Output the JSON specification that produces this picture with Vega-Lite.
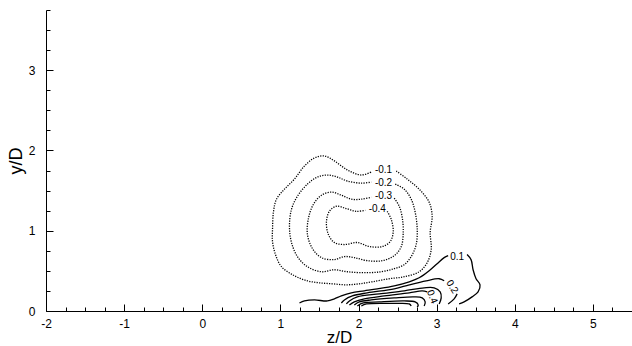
{
  "$schema": "https://vega.github.io/schema/vega-lite/v6.json",
  "width": 586,
  "height": 301,
  "autosize": {"type": "none"},
  "padding": {"left": 46, "top": 10, "right": 0, "bottom": 35},
  "background": "white",
  "config": {
    "view": {"stroke": null},
    "font": "Liberation Sans",
    "axis": {
      "domainColor": "black",
      "domainWidth": 1,
      "tickColor": "black",
      "tickWidth": 1,
      "grid": false,
      "labelColor": "black",
      "labelFontSize": 12,
      "labelFont": "Liberation Sans",
      "titleColor": "black",
      "titleFont": "Liberation Sans",
      "titleFontSize": 17,
      "titleFontWeight": "normal"
    }
  },
  "datasets": {
    "contours": [
      {"c": "n1", "s": "neg", "z": 2.483, "y": 1.744},
      {"c": "n1", "s": "neg", "z": 2.623, "y": 1.644},
      {"c": "n1", "s": "neg", "z": 2.776, "y": 1.518},
      {"c": "n1", "s": "neg", "z": 2.904, "y": 1.355},
      {"c": "n1", "s": "neg", "z": 2.942, "y": 1.179},
      {"c": "n1", "s": "neg", "z": 2.917, "y": 0.979},
      {"c": "n1", "s": "neg", "z": 2.93, "y": 0.765},
      {"c": "n1", "s": "neg", "z": 2.879, "y": 0.602},
      {"c": "n1", "s": "neg", "z": 2.776, "y": 0.489},
      {"c": "n1", "s": "neg", "z": 2.585, "y": 0.427},
      {"c": "n1", "s": "neg", "z": 2.393, "y": 0.402},
      {"c": "n1", "s": "neg", "z": 2.176, "y": 0.364},
      {"c": "n1", "s": "neg", "z": 2.01, "y": 0.339},
      {"c": "n1", "s": "neg", "z": 1.844, "y": 0.326},
      {"c": "n1", "s": "neg", "z": 1.665, "y": 0.339},
      {"c": "n1", "s": "neg", "z": 1.499, "y": 0.351},
      {"c": "n1", "s": "neg", "z": 1.346, "y": 0.376},
      {"c": "n1", "s": "neg", "z": 1.18, "y": 0.439},
      {"c": "n1", "s": "neg", "z": 1.014, "y": 0.552},
      {"c": "n1", "s": "neg", "z": 0.937, "y": 0.703},
      {"c": "n1", "s": "neg", "z": 0.899, "y": 0.866},
      {"c": "n1", "s": "neg", "z": 0.899, "y": 1.016},
      {"c": "n1", "s": "neg", "z": 0.912, "y": 1.242},
      {"c": "n1", "s": "neg", "z": 0.95, "y": 1.393},
      {"c": "n1", "s": "neg", "z": 1.052, "y": 1.518},
      {"c": "n1", "s": "neg", "z": 1.18, "y": 1.644},
      {"c": "n1", "s": "neg", "z": 1.308, "y": 1.807},
      {"c": "n1", "s": "neg", "z": 1.436, "y": 1.907},
      {"c": "n1", "s": "neg", "z": 1.563, "y": 1.932},
      {"c": "n1", "s": "neg", "z": 1.691, "y": 1.87},
      {"c": "n1", "s": "neg", "z": 1.857, "y": 1.757},
      {"c": "n1", "s": "neg", "z": 2.036, "y": 1.694},
      {"c": "n1", "s": "neg", "z": 2.164, "y": 1.732},

      {"c": "n2", "s": "neg", "z": 2.47, "y": 1.581},
      {"c": "n2", "s": "neg", "z": 2.585, "y": 1.518},
      {"c": "n2", "s": "neg", "z": 2.674, "y": 1.393},
      {"c": "n2", "s": "neg", "z": 2.725, "y": 1.23},
      {"c": "n2", "s": "neg", "z": 2.751, "y": 1.016},
      {"c": "n2", "s": "neg", "z": 2.738, "y": 0.828},
      {"c": "n2", "s": "neg", "z": 2.674, "y": 0.678},
      {"c": "n2", "s": "neg", "z": 2.585, "y": 0.577},
      {"c": "n2", "s": "neg", "z": 2.457, "y": 0.527},
      {"c": "n2", "s": "neg", "z": 2.291, "y": 0.489},
      {"c": "n2", "s": "neg", "z": 2.074, "y": 0.477},
      {"c": "n2", "s": "neg", "z": 1.857, "y": 0.489},
      {"c": "n2", "s": "neg", "z": 1.691, "y": 0.514},
      {"c": "n2", "s": "neg", "z": 1.525, "y": 0.489},
      {"c": "n2", "s": "neg", "z": 1.346, "y": 0.552},
      {"c": "n2", "s": "neg", "z": 1.218, "y": 0.678},
      {"c": "n2", "s": "neg", "z": 1.142, "y": 0.853},
      {"c": "n2", "s": "neg", "z": 1.116, "y": 1.054},
      {"c": "n2", "s": "neg", "z": 1.142, "y": 1.267},
      {"c": "n2", "s": "neg", "z": 1.218, "y": 1.43},
      {"c": "n2", "s": "neg", "z": 1.346, "y": 1.581},
      {"c": "n2", "s": "neg", "z": 1.474, "y": 1.669},
      {"c": "n2", "s": "neg", "z": 1.602, "y": 1.694},
      {"c": "n2", "s": "neg", "z": 1.729, "y": 1.669},
      {"c": "n2", "s": "neg", "z": 1.857, "y": 1.619},
      {"c": "n2", "s": "neg", "z": 2.036, "y": 1.593},
      {"c": "n2", "s": "neg", "z": 2.164, "y": 1.606},

      {"c": "n3", "s": "neg", "z": 2.457, "y": 1.405},
      {"c": "n3", "s": "neg", "z": 2.521, "y": 1.305},
      {"c": "n3", "s": "neg", "z": 2.559, "y": 1.167},
      {"c": "n3", "s": "neg", "z": 2.572, "y": 0.979},
      {"c": "n3", "s": "neg", "z": 2.547, "y": 0.803},
      {"c": "n3", "s": "neg", "z": 2.457, "y": 0.69},
      {"c": "n3", "s": "neg", "z": 2.304, "y": 0.627},
      {"c": "n3", "s": "neg", "z": 2.112, "y": 0.627},
      {"c": "n3", "s": "neg", "z": 1.946, "y": 0.665},
      {"c": "n3", "s": "neg", "z": 1.819, "y": 0.678},
      {"c": "n3", "s": "neg", "z": 1.691, "y": 0.64},
      {"c": "n3", "s": "neg", "z": 1.525, "y": 0.665},
      {"c": "n3", "s": "neg", "z": 1.41, "y": 0.778},
      {"c": "n3", "s": "neg", "z": 1.346, "y": 0.954},
      {"c": "n3", "s": "neg", "z": 1.359, "y": 1.154},
      {"c": "n3", "s": "neg", "z": 1.423, "y": 1.33},
      {"c": "n3", "s": "neg", "z": 1.525, "y": 1.443},
      {"c": "n3", "s": "neg", "z": 1.653, "y": 1.481},
      {"c": "n3", "s": "neg", "z": 1.78, "y": 1.443},
      {"c": "n3", "s": "neg", "z": 1.908, "y": 1.393},
      {"c": "n3", "s": "neg", "z": 2.036, "y": 1.393},
      {"c": "n3", "s": "neg", "z": 2.164, "y": 1.418},

      {"c": "n4", "s": "neg", "z": 2.367, "y": 1.242},
      {"c": "n4", "s": "neg", "z": 2.418, "y": 1.142},
      {"c": "n4", "s": "neg", "z": 2.444, "y": 0.991},
      {"c": "n4", "s": "neg", "z": 2.406, "y": 0.866},
      {"c": "n4", "s": "neg", "z": 2.304, "y": 0.803},
      {"c": "n4", "s": "neg", "z": 2.138, "y": 0.803},
      {"c": "n4", "s": "neg", "z": 1.985, "y": 0.853},
      {"c": "n4", "s": "neg", "z": 1.819, "y": 0.828},
      {"c": "n4", "s": "neg", "z": 1.691, "y": 0.853},
      {"c": "n4", "s": "neg", "z": 1.614, "y": 0.954},
      {"c": "n4", "s": "neg", "z": 1.589, "y": 1.104},
      {"c": "n4", "s": "neg", "z": 1.627, "y": 1.242},
      {"c": "n4", "s": "neg", "z": 1.717, "y": 1.305},
      {"c": "n4", "s": "neg", "z": 1.832, "y": 1.28},
      {"c": "n4", "s": "neg", "z": 1.972, "y": 1.242},
      {"c": "n4", "s": "neg", "z": 2.087, "y": 1.255},

      {"c": "p1a", "s": "pos", "z": 1.244, "y": 0.1},
      {"c": "p1a", "s": "pos", "z": 1.308, "y": 0.125},
      {"c": "p1a", "s": "pos", "z": 1.436, "y": 0.138},
      {"c": "p1a", "s": "pos", "z": 1.602, "y": 0.125},
      {"c": "p1a", "s": "pos", "z": 1.691, "y": 0.151},
      {"c": "p1a", "s": "pos", "z": 1.78, "y": 0.188},
      {"c": "p1a", "s": "pos", "z": 1.908, "y": 0.226},
      {"c": "p1a", "s": "pos", "z": 2.074, "y": 0.251},
      {"c": "p1a", "s": "pos", "z": 2.24, "y": 0.276},
      {"c": "p1a", "s": "pos", "z": 2.457, "y": 0.314},
      {"c": "p1a", "s": "pos", "z": 2.649, "y": 0.364},
      {"c": "p1a", "s": "pos", "z": 2.776, "y": 0.414},
      {"c": "p1a", "s": "pos", "z": 2.904, "y": 0.502},
      {"c": "p1a", "s": "pos", "z": 3.006, "y": 0.59},
      {"c": "p1a", "s": "pos", "z": 3.096, "y": 0.665},
      {"c": "p1a", "s": "pos", "z": 3.147, "y": 0.69},
      {"c": "p1b", "s": "pos", "z": 3.389, "y": 0.703},
      {"c": "p1b", "s": "pos", "z": 3.44, "y": 0.64},
      {"c": "p1b", "s": "pos", "z": 3.466, "y": 0.514},
      {"c": "p1b", "s": "pos", "z": 3.504, "y": 0.402},
      {"c": "p1b", "s": "pos", "z": 3.555, "y": 0.326},
      {"c": "p1b", "s": "pos", "z": 3.53, "y": 0.238},
      {"c": "p1b", "s": "pos", "z": 3.453, "y": 0.176},
      {"c": "p1b", "s": "pos", "z": 3.351, "y": 0.113},
      {"c": "p1b", "s": "pos", "z": 3.287, "y": 0.088},

      {"c": "p2a", "s": "pos", "z": 1.78, "y": 0.1},
      {"c": "p2a", "s": "pos", "z": 1.819, "y": 0.138},
      {"c": "p2a", "s": "pos", "z": 1.921, "y": 0.188},
      {"c": "p2a", "s": "pos", "z": 2.112, "y": 0.226},
      {"c": "p2a", "s": "pos", "z": 2.457, "y": 0.276},
      {"c": "p2a", "s": "pos", "z": 2.649, "y": 0.326},
      {"c": "p2a", "s": "pos", "z": 2.866, "y": 0.376},
      {"c": "p2a", "s": "pos", "z": 3.032, "y": 0.402},
      {"c": "p2a", "s": "pos", "z": 3.096, "y": 0.376},
      {"c": "p2b", "s": "pos", "z": 3.262, "y": 0.213},
      {"c": "p2b", "s": "pos", "z": 3.224, "y": 0.151},
      {"c": "p2b", "s": "pos", "z": 3.147, "y": 0.088},

      {"c": "p3", "s": "pos", "z": 1.844, "y": 0.088},
      {"c": "p3", "s": "pos", "z": 1.883, "y": 0.125},
      {"c": "p3", "s": "pos", "z": 1.985, "y": 0.176},
      {"c": "p3", "s": "pos", "z": 2.266, "y": 0.213},
      {"c": "p3", "s": "pos", "z": 2.585, "y": 0.251},
      {"c": "p3", "s": "pos", "z": 2.84, "y": 0.289},
      {"c": "p3", "s": "pos", "z": 2.968, "y": 0.289},
      {"c": "p3", "s": "pos", "z": 3.045, "y": 0.238},
      {"c": "p3", "s": "pos", "z": 3.058, "y": 0.163},
      {"c": "p3", "s": "pos", "z": 3.032, "y": 0.088},

      {"c": "p4", "s": "pos", "z": 1.883, "y": 0.075},
      {"c": "p4", "s": "pos", "z": 1.946, "y": 0.113},
      {"c": "p4", "s": "pos", "z": 2.074, "y": 0.151},
      {"c": "p4", "s": "pos", "z": 2.33, "y": 0.188},
      {"c": "p4", "s": "pos", "z": 2.649, "y": 0.226},
      {"c": "p4", "s": "pos", "z": 2.815, "y": 0.251},
      {"c": "p4", "s": "pos", "z": 2.879, "y": 0.238},

      {"c": "p5", "s": "pos", "z": 1.946, "y": 0.075},
      {"c": "p5", "s": "pos", "z": 2.01, "y": 0.113},
      {"c": "p5", "s": "pos", "z": 2.163, "y": 0.138},
      {"c": "p5", "s": "pos", "z": 2.457, "y": 0.163},
      {"c": "p5", "s": "pos", "z": 2.712, "y": 0.176},
      {"c": "p5", "s": "pos", "z": 2.815, "y": 0.163},
      {"c": "p5", "s": "pos", "z": 2.853, "y": 0.113},
      {"c": "p5", "s": "pos", "z": 2.84, "y": 0.063},

      {"c": "p6", "s": "pos", "z": 1.985, "y": 0.063},
      {"c": "p6", "s": "pos", "z": 2.061, "y": 0.1},
      {"c": "p6", "s": "pos", "z": 2.266, "y": 0.113},
      {"c": "p6", "s": "pos", "z": 2.585, "y": 0.125},
      {"c": "p6", "s": "pos", "z": 2.725, "y": 0.113},
      {"c": "p6", "s": "pos", "z": 2.764, "y": 0.075},
      {"c": "p6", "s": "pos", "z": 2.751, "y": 0.05},

      {"c": "p7", "s": "pos", "z": 2.036, "y": 0.063},
      {"c": "p7", "s": "pos", "z": 2.1, "y": 0.088},
      {"c": "p7", "s": "pos", "z": 2.457, "y": 0.094},
      {"c": "p7", "s": "pos", "z": 2.649, "y": 0.088},
      {"c": "p7", "s": "pos", "z": 2.674, "y": 0.063}
    ],
    "labels": [
      {"t": "-0.1", "r": "h", "z": 2.32, "y": 1.757},
      {"t": "-0.2", "r": "h", "z": 2.32, "y": 1.594},
      {"t": "-0.3", "r": "h", "z": 2.32, "y": 1.43},
      {"t": "-0.4", "r": "h", "z": 2.24, "y": 1.267},
      {"t": "0.1", "r": "h", "z": 3.262, "y": 0.678},
      {"t": "0.2", "r": "a", "z": 3.198, "y": 0.301},
      {"t": "0.4", "r": "b", "z": 2.942, "y": 0.176}
    ]
  },
  "encoding": {
    "x": {
      "field": "z",
      "type": "quantitative",
      "scale": {"domain": [-2, 5.5], "nice": false, "zero": false},
      "axis": {
        "title": "z/D",
        "values": [-2, -1.75, -1.5, -1.25, -1, -0.75, -0.5, -0.25, 0, 0.25, 0.5, 0.75, 1, 1.25, 1.5, 1.75, 2, 2.25, 2.5, 2.75, 3, 3.25, 3.5, 3.75, 4, 4.25, 4.5, 4.75, 5, 5.25, 5.5],
        "labelExpr": "datum.value % 1 === 0 ? '' + datum.value : ''",
        "tickSize": {"condition": {"test": "datum.value % 1 === 0", "value": -7}, "value": -4},
        "labelPadding": 14,
        "labelFlush": false,
        "labelOverlap": false,
        "titlePadding": -3
      }
    },
    "y": {
      "field": "y",
      "type": "quantitative",
      "scale": {"domain": [0, 3.75], "nice": false, "zero": false},
      "axis": {
        "title": "y/D",
        "values": [0, 0.25, 0.5, 0.75, 1, 1.25, 1.5, 1.75, 2, 2.25, 2.5, 2.75, 3, 3.25, 3.5, 3.75],
        "labelExpr": "datum.value % 1 === 0 ? '' + datum.value : ''",
        "tickSize": {"condition": {"test": "datum.value % 1 === 0", "value": -7}, "value": -4},
        "labelPadding": 18,
        "labelFlush": false,
        "labelOverlap": false,
        "titleFontSize": 18,
        "titlePadding": 3
      }
    }
  },
  "layer": [
    {
      "data": {"name": "contours"},
      "transform": [{"filter": "datum.s === 'neg'"}],
      "mark": {"type": "line", "color": "black", "strokeWidth": 1.3, "strokeDash": [1.2, 1.3], "interpolate": "catmull-rom"},
      "encoding": {"detail": {"field": "c"}, "order": {"value": null}}
    },
    {
      "data": {"name": "contours"},
      "transform": [{"filter": "datum.s === 'pos'"}],
      "mark": {"type": "line", "color": "black", "strokeWidth": 1.3, "interpolate": "catmull-rom"},
      "encoding": {"detail": {"field": "c"}, "order": {"value": null}}
    },
    {
      "data": {"name": "labels"},
      "transform": [{"filter": "datum.r === 'h'"}],
      "mark": {"type": "text", "color": "black", "fontSize": 10, "font": "Liberation Sans", "align": "center", "baseline": "middle"},
      "encoding": {"text": {"field": "t"}}
    },
    {
      "data": {"name": "labels"},
      "transform": [{"filter": "datum.r === 'a'"}],
      "mark": {"type": "text", "color": "black", "fontSize": 10, "font": "Liberation Sans", "align": "center", "baseline": "middle", "angle": 58},
      "encoding": {"text": {"field": "t"}}
    },
    {
      "data": {"name": "labels"},
      "transform": [{"filter": "datum.r === 'b'"}],
      "mark": {"type": "text", "color": "black", "fontSize": 10, "font": "Liberation Sans", "align": "center", "baseline": "middle", "angle": 68},
      "encoding": {"text": {"field": "t"}}
    }
  ]
}
